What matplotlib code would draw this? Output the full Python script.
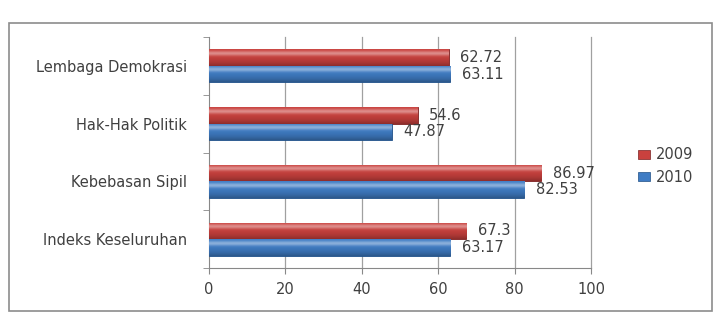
import numpy as np
import matplotlib
matplotlib.use("Agg")
import matplotlib.pyplot as plt
from matplotlib.patches import Rectangle

# data (bottom to top)
categories = ["Indeks Keseluruhan", "Kebebasan Sipil", "Hak-Hak Politik", "Lembaga Demokrasi"]
val_2009 = [67.3, 86.97, 54.6, 62.72]
val_2010 = [63.17, 82.53, 47.87, 63.11]
lbl_2009 = ["67.3", "86.97", "54.6", "62.72"]
lbl_2010 = ["63.17", "82.53", "47.87", "63.11"]
series = ["2009", "2010"]

red = "#c9413e"
blue = "#3f7cc4"
fs = 10.5

plt.rcParams["font.family"] = ["DejaVu Sans"]

fig = plt.figure(figsize=(7.18, 3.14), dpi=100)
fig.patches.append(Rectangle((9 / 718, 1 - 311 / 314), 703 / 718, 288 / 314,
                             transform=fig.transFigure, fill=False,
                             edgecolor="#8c8c8c", linewidth=1.2))

ax = fig.add_axes([209 / 718, 1 - 268 / 314, 382 / 718, 231 / 314])

y = np.arange(len(categories))
h = 0.285


def shaded_bars(ys, vals, color):
    bars = ax.barh(ys, vals, height=h, color=color, edgecolor="#7a2020" if color == red else "#1f4f86",
                   linewidth=0.6, zorder=3)
    # glossy gradient on top of each bar
    grad = np.linspace(0, 1, 64)
    base = np.array(matplotlib.colors.to_rgb(color))
    cols = np.zeros((64, 1, 4))
    for i, g in enumerate(grad):
        # g=0 bottom, g=1 top
        light = 0.4 * np.exp(-((g - 0.75) ** 2) / 0.02)
        dark = 0.3 * (1 - g) ** 3
        c = base + (1 - base) * light - base * dark
        cols[i, 0, :3] = np.clip(c, 0, 1)
        cols[i, 0, 3] = 1
    for b in bars:
        x0, y0 = b.get_x(), b.get_y()
        im = ax.imshow(cols, extent=[x0, x0 + b.get_width(), y0, y0 + b.get_height()],
                       origin="lower", aspect="auto", zorder=3.5, interpolation="bilinear")
        im.set_clip_path(b)
    return bars


shaded_bars(y + h / 2, val_2009, red)
shaded_bars(y - h / 2, val_2010, blue)

for i in range(len(categories)):
    ax.text(val_2009[i] + 3.0, y[i] + h / 2, lbl_2009[i], va="center", ha="left",
            fontsize=fs, color="#404040", zorder=5)
    ax.text(val_2010[i] + 3.0, y[i] - h / 2, lbl_2010[i], va="center", ha="left",
            fontsize=fs, color="#404040", zorder=5)

ax.set_xlim(0, 100)
ax.set_ylim(-0.5, len(categories) - 0.5)
ax.set_xticks([0, 20, 40, 60, 80, 100])
ax.tick_params(axis="x", labelsize=fs, colors="#404040", length=4, color="#888888", pad=6)
ax.set_yticks(y)
ax.set_yticklabels(categories)
ax.set_yticks(np.arange(-0.5, len(categories)), minor=True)
ax.tick_params(axis="y", which="major", length=0, labelsize=fs, colors="#404040", pad=16)
ax.tick_params(axis="y", which="minor", length=4, color="#888888")
for gx in [20, 40, 60, 80, 100]:
    ax.axvline(gx, color="#a0a0a0", linewidth=0.9, zorder=0, clip_on=False)
for s in ["top", "right"]:
    ax.spines[s].set_visible(False)
for s in ["left", "bottom"]:
    ax.spines[s].set_color("#888888")

handles = [Rectangle((0, 0), 1, 1, facecolor=red, edgecolor="#7a2020", linewidth=0.5),
           Rectangle((0, 0), 1, 1, facecolor=blue, edgecolor="#1f4f86", linewidth=0.5)]
fig.legend(handles, series, loc="center left", bbox_to_anchor=(625 / 718, 1 - 166 / 314),
           frameon=False, fontsize=fs, handlelength=0.8, handleheight=0.6,
           handletextpad=0.4, labelspacing=0.5, labelcolor="#404040")

fig.savefig("out.png", dpi=100)
